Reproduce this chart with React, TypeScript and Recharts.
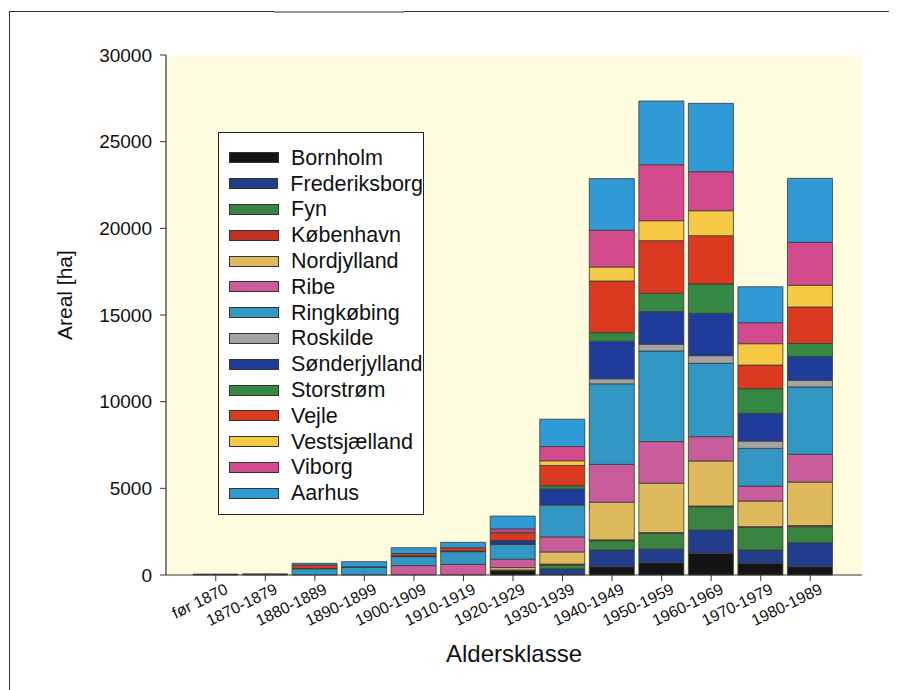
import React from 'react';
import { BarChart, Bar, XAxis, YAxis, CartesianGrid, Legend, Label } from 'recharts';

// Age classes (x axis)
const categories = [
  'før 1870', '1870-1879', '1880-1889', '1890-1899', '1900-1909', '1910-1919',
  '1920-1929', '1930-1939', '1940-1949', '1950-1959', '1960-1969', '1970-1979', '1980-1989',
];

// Area in hectares per county and age class
const bornholm = [0, 0, 0, 0, 0, 0, 240, 30, 480, 710, 1250, 675, 480];
const frederiksborg = [0, 0, 0, 0, 0, 0, 20, 320, 960, 790, 1345, 765, 1385];
const fyn = [0, 0, 0, 0, 0, 0, 20, 220, 540, 905, 1345, 1310, 925];
const koebenhavn = [0, 0, 0, 0, 0, 0, 10, 60, 50, 40, 40, 40, 60];
const nordjylland = [0, 0, 0, 0, 0, 0, 140, 700, 2170, 2850, 2600, 1475, 2515];
const ribe = [0, 0, 0, 0, 540, 615, 480, 870, 2180, 2400, 1400, 865, 1600];
const ringkoebing = [30, 40, 360, 440, 520, 730, 860, 1830, 4650, 5230, 4235, 2175, 3885];
const roskilde = [0, 0, 0, 0, 0, 0, 10, 30, 290, 390, 440, 420, 385];
const soenderjylland = [0, 0, 20, 30, 50, 40, 190, 900, 2170, 1880, 2445, 1600, 1385];
const storstroem = [0, 0, 0, 0, 0, 0, 20, 190, 490, 1060, 1690, 1425, 735];
const vejle = [0, 0, 200, 0, 130, 190, 420, 1170, 2980, 3035, 2785, 1360, 2110];
const vestsjaelland = [0, 0, 0, 0, 0, 0, 60, 270, 810, 1150, 1440, 1235, 1250];
const viborg = [0, 0, 0, 0, 0, 0, 190, 820, 2120, 3230, 2250, 1210, 2480];
const aarhus = [20, 20, 95, 300, 335, 310, 740, 1580, 2980, 3675, 3945, 2075, 3690];

const yTicks = [0, 5000, 10000, 15000, 20000, 25000, 30000];

const counties = [
  { key: 'Bornholm', values: bornholm, color: '#141414' },
  { key: 'Frederiksborg', values: frederiksborg, color: '#223d8c' },
  { key: 'Fyn', values: fyn, color: '#3a8442' },
  { key: 'København', values: koebenhavn, color: '#c0321f' },
  { key: 'Nordjylland', values: nordjylland, color: '#dfba5c' },
  { key: 'Ribe', values: ribe, color: '#c95d9b' },
  { key: 'Ringkøbing', values: ringkoebing, color: '#3397c3' },
  { key: 'Roskilde', values: roskilde, color: '#a3a3a3' },
  { key: 'Sønderjylland', values: soenderjylland, color: '#1f3c9a' },
  { key: 'Storstrøm', values: storstroem, color: '#368845' },
  { key: 'Vejle', values: vejle, color: '#da3a1f' },
  { key: 'Vestsjælland', values: vestsjaelland, color: '#f7ca46' },
  { key: 'Viborg', values: viborg, color: '#d34a8d' },
  { key: 'Aarhus', values: aarhus, color: '#2f9ad6' },
];

const rows = categories.map((name, i) => {
  const row: Record<string, string | number> = { name };
  counties.forEach((c) => {
    row[c.key] = c.values[i];
  });
  return row;
});

const FONT = '"Liberation Sans", Arial, Helvetica, sans-serif';

const XTick = (props: any) => {
  const { x, y, payload } = props;
  return (
    <g transform={`translate(${x + 8},${y - 1}) rotate(-26)`}>
      <text x={0} y={0} dy="0.75em" textAnchor="end" fontSize={16} fontFamily={FONT} fill="#111">
        {payload.value}
      </text>
    </g>
  );
};

const LegendBox = () => (
  <div
    style={{
      width: 206,
      height: 383,
      boxSizing: 'border-box',
      border: '1px solid #222',
      background: '#ffffff',
      paddingTop: 12,
      fontFamily: FONT,
      textAlign: 'left',
    }}
  >
    {counties.map((c) => (
      <div key={c.key} style={{ display: 'flex', alignItems: 'center', height: 25.8 }}>
        <span
          style={{
            display: 'inline-block',
            marginLeft: 10,
            width: 50,
            height: 11,
            boxSizing: 'border-box',
            border: '1px solid #333',
            background: c.color,
          }}
        />
        <span style={{ marginLeft: 12, fontSize: 21.5, color: '#111', lineHeight: '22px' }}>{c.key}</span>
      </div>
    ))}
  </div>
);

export default function App() {
  return (
    <div style={{ position: 'relative', width: 889, height: 682, fontFamily: FONT }}>
      {/* outer frame */}
      <div style={{ position: 'absolute', left: 1, top: 3, width: 888, height: 679, borderTop: '1.5px solid #333', borderLeft: '1.5px solid #333' }} />
      <div style={{ position: 'absolute', left: 266, top: 3, width: 130, height: 1.5, background: '#9a9a9a' }} />
      <BarChart
        width={889}
        height={682}
        data={rows}
        margin={{ top: 47, right: 35, left: 0, bottom: 0 }}
        barSize={45}
      >
        <CartesianGrid horizontal={false} vertical={false} fill="#fffde0" />
        <XAxis
          dataKey="name"
          padding={{ left: 25, right: 27 }}
          height={115}
          tickSize={6}
          tickMargin={2}
          tick={<XTick />}
          axisLine={{ stroke: '#333', strokeWidth: 1.2 }}
          tickLine={{ stroke: '#333' }}
          interval={0}
        >
          <Label value="Aldersklasse" position="insideBottom" offset={28} fontSize={24} fill="#111" fontFamily={FONT} />
        </XAxis>
        <XAxis
          xAxisId="top"
          orientation="top"
          dataKey="name"
          height={0}
          tick={false}
          tickLine={false}
          axisLine={{ stroke: '#444', strokeWidth: 1 }}
        />
        <YAxis
          domain={[0, 30000]}
          ticks={yTicks}
          width={158}
          tickSize={6}
          tickMargin={8}
          interval={0}
          tick={{ fontSize: 19, fill: '#111', fontFamily: FONT }}
          axisLine={{ stroke: '#333', strokeWidth: 1.2 }}
          tickLine={{ stroke: '#333' }}
        >
          <Label
            value="Areal [ha]"
            angle={-90}
            position="insideLeft"
            offset={57}
            fontSize={21}
            fill="#111"
            fontFamily={FONT}
            dy={25}
          />
        </YAxis>
        <YAxis
          yAxisId="right"
          orientation="right"
          width={0}
          domain={[0, 30000]}
          tick={false}
          tickLine={false}
          axisLine={{ stroke: '#444', strokeWidth: 1 }}
        />
        <Legend
          layout="vertical"
          align="center"
          verticalAlign="middle"
          content={<LegendBox />}
          wrapperStyle={{ position: 'absolute', left: 210, top: 124, width: 206, height: 383 }}
        />
        {counties.map((c) => (
          <Bar
            key={c.key}
            dataKey={c.key}
            stackId="areal"
            fill={c.color}
            stroke="#3a3a3a"
            strokeWidth={0.8}
            isAnimationActive={false}
          />
        ))}
      </BarChart>
    </div>
  );
}
